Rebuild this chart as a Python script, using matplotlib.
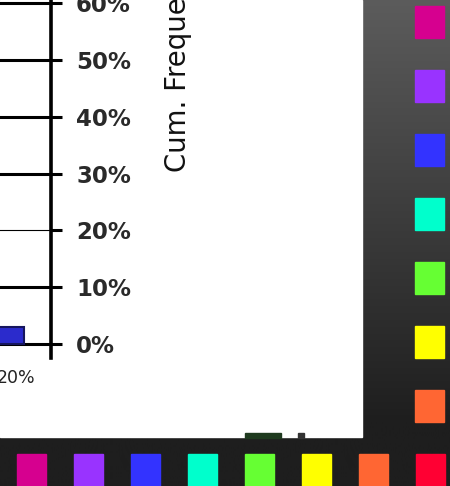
import numpy as np
import matplotlib
matplotlib.use("Agg")
import matplotlib.pyplot as plt
from matplotlib.patches import Rectangle

plt.rcParams["font.family"] = ["DejaVu Sans"]

# chart data (visible part of a cumulative-frequency histogram)
bin_labels = ["20%"]
bin_freq = [0.03]
y_ticks = [0.0, 0.1, 0.2, 0.3, 0.4, 0.5, 0.6]
y_tick_labels = ["0%", "10%", "20%", "30%", "40%", "50%", "60%"]
grid_widths = [2.2, 2.2, 0.8, 2.2, 2.2, 2.2, 2.2]

# slide decoration colours
side_colors = ["#d6008f", "#9933ff", "#3333ff", "#00ffcc", "#66ff33", "#ffff00", "#ff6633"]
bottom_colors = ["#d6008f", "#9933ff", "#3333ff", "#00ffcc", "#66ff33", "#ffff00", "#ff6633", "#ff0033"]

fig = plt.figure(figsize=(4.5, 4.86), dpi=100)

# background (dark gradient of the slide)
bg = fig.add_axes([0, 0, 1, 1])
grad = np.clip(np.linspace(0, 1.15, 486), 0, 1)
top_c, bot_c = 0x5c / 255, 0x1e / 255
shade = top_c + (bot_c - top_c) * grad
img = np.repeat(shade[:, None], 2, axis=1)
bg.imshow(np.dstack([img, img, img]), extent=[0, 450, 486, 0], aspect="auto")
bg.set_xlim(0, 450)
bg.set_ylim(486, 0)
bg.axis("off")

# white chart panel
bg.add_patch(Rectangle((0, 0), 362, 437, color="white", zorder=2))
# bit of a legend patch peeking at the bottom of the panel
bg.add_patch(Rectangle((245, 433), 36, 5, color="#1f3a1f", zorder=3))
bg.add_patch(Rectangle((298, 433), 6, 5, color="#333333", zorder=3))

# colour squares
for i, c in enumerate(side_colors):
    bg.add_patch(Rectangle((415, 6 + 64 * i), 29, 32, color=c, zorder=2))
for i, c in enumerate(bottom_colors):
    bg.add_patch(Rectangle((17 + 57 * i, 454), 29, 34, color=c, zorder=2))

# axis title
bg.text(178, 172, "Cum. Frequency", rotation=90, ha="center", va="bottom",
        fontsize=19.8, color="#111111", zorder=4)

# chart axes
ax = fig.add_axes([0, 128 / 486, 51 / 450, 358 / 486])
ax.set_facecolor("none")
x = np.arange(len(bin_freq))
ax.bar(x, bin_freq, width=1.0, color="#2b2bcc", edgecolor="#16165e", linewidth=1.5, zorder=3)
for yv, lw in zip(y_ticks, grid_widths):
    ax.axhline(yv, color="black", linewidth=lw, zorder=2)

ax.set_xlim(-0.1, 1.175)
ax.set_ylim(-0.0246, 0.6053)
ax.set_xticks(x + 0.3)
ax.set_xticklabels(bin_labels)
ax.set_yticks(y_ticks)
ax.set_yticklabels(y_tick_labels)

ax.yaxis.tick_right()
ax.tick_params(axis="y", direction="out", length=8, width=2.2, pad=10,
               labelsize=16.5, colors="black")
for lab in ax.get_yticklabels():
    lab.set_fontweight("bold")
    lab.set_color("#2a2a2a")
ax.tick_params(axis="x", length=0, pad=8, labelsize=12.5, labelcolor="#222222")

for s in ["left", "top", "bottom"]:
    ax.spines[s].set_visible(False)
ax.spines["right"].set_linewidth(2.6)

fig.savefig("out.png", dpi=100)
